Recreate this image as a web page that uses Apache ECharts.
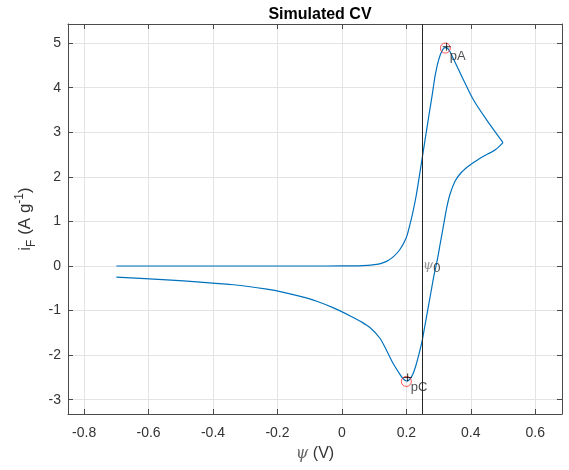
<!DOCTYPE html>
<html><head><meta charset="utf-8">
<script src="https://cdn.jsdelivr.net/npm/echarts@6/dist/echarts.min.js"></script>
<style>html,body{margin:0;padding:0;background:#fff}#c{width:569px;height:470px}</style>
</head><body><div id="c"></div>
<script>
// forward scan
const psiForward = [-0.7,-0.5,-0.3,-0.1,0,0.05,0.08,0.1,0.12,0.14,0.16,0.18,0.2,0.21,0.22,0.23,0.24,0.25,0.26,0.27,0.28,0.29,0.3,0.31,0.32,0.33,0.344,0.377,0.408,0.449,0.5];
const iForward   = [0,0,0,0,0.002,0.005,0.015,0.03,0.055,0.11,0.21,0.37,0.64,0.9,1.2,1.56,2.0,2.46,2.92,3.38,3.83,4.3,4.62,4.82,4.9,4.87,4.68,4.18,3.73,3.28,2.77];
// reverse scan
const psiReverse = [0.5,0.476,0.434,0.4,0.387,0.367,0.351,0.335,0.325,0.315,0.305,0.296,0.286,0.276,0.266,0.257,0.249,0.24,0.23,0.22,0.21,0.2,0.19,0.18,0.16,0.139,0.118,0.087,0.057,0.026,-0.026,-0.078,-0.129,-0.181,-0.233,-0.336,-0.44,-0.543,-0.7];
const iReverse   = [2.77,2.61,2.44,2.28,2.21,2.07,1.9,1.6,1.3,0.9,0.5,0.14,-0.2,-0.6,-1.0,-1.36,-1.68,-1.95,-2.22,-2.43,-2.55,-2.58,-2.53,-2.43,-2.2,-1.9,-1.62,-1.38,-1.24,-1.12,-0.94,-0.79,-0.68,-0.59,-0.52,-0.42,-0.36,-0.31,-0.25];
const xTicks = [-0.8,-0.6,-0.4,-0.2,0,0.2,0.4,0.6];
const yTicks = [-3,-2,-1,0,1,2,3,4,5];
const peakNames = ['pA','pC'];
const peakPsi = [0.321, 0.2];
const peakI = [4.89, -2.59];
const crossPsi = [0.325, 0.204];
const crossI = [4.92, -2.50];
const psi0 = 0.25;
const xRange = [-0.85, 0.683];
const yRange = [-3.32, 5.43];

const FONT = '"Liberation Sans", Arial, Helvetica, sans-serif';
const AX = '#4a4a4a';
const GRIDC = '#e3e3e3';

const chart = echarts.init(document.getElementById('c'), null, {renderer:'canvas'});
const fwd = psiForward.map((x,i)=>[x,iForward[i]]);
const rev = psiReverse.map((x,i)=>[x,iReverse[i]]);
const labelOffsets = [[-1,8],[-1,6]];

function baseX(pos, main){
  return {
    type:'value', min:xRange[0], max:xRange[1], position:pos,
    axisLine:{show:true, onZero:false, lineStyle:{color:AX, width:1}},
    axisTick:{show:true, inside:true, length:5, customValues:xTicks, lineStyle:{color:AX}},
    axisLabel:{show:main, customValues:xTicks, formatter:v=>String(v), margin:12, fontSize:14, color:'#333', fontFamily:FONT},
    splitLine:{show:main, lineStyle:{color:GRIDC, width:1}}
  };
}
function baseY(pos, main){
  return {
    type:'value', min:yRange[0], max:yRange[1], position:pos,
    axisLine:{show:true, onZero:false, lineStyle:{color:AX, width:1}},
    axisTick:{show:true, inside:true, length:5, customValues:yTicks, lineStyle:{color:AX}},
    axisLabel:{show:main, customValues:yTicks, formatter:v=>String(v), margin:7, fontSize:14, color:'#333', fontFamily:FONT},
    splitLine:{show:main, lineStyle:{color:GRIDC, width:1}}
  };
}
const xa = baseX('bottom', true);
xa.name = '{g|ψ}{t| (V)}';
xa.nameLocation = 'middle';
xa.nameGap = 32;
xa.nameTextStyle = {rich:{g:{fontFamily:'"DejaVu Serif", serif', fontStyle:'italic', fontSize:16, color:'#666'}, t:{fontFamily:FONT, fontSize:16, color:'#333'}}};
const ya = baseY('left', true);
ya.name = '{t|i}{s|F}{t| (A g}{p|-1}{t|)}';
ya.nameLocation = 'middle';
ya.nameRotate = 90;
ya.nameGap = 27;
ya.nameTextStyle = {rich:{
  t:{fontFamily:FONT, fontSize:17, color:'#333', lineHeight:24},
  s:{fontFamily:FONT, fontSize:12, color:'#333', verticalAlign:'bottom', lineHeight:12},
  p:{fontFamily:FONT, fontSize:12, color:'#333', verticalAlign:'top', lineHeight:12}
}};

const lineStyle = {color:'#0072BD', width:1.2};
const option = {
  animation:false,
  backgroundColor:'#fff',
  title:{text:'Simulated CV', left:315, top:2, textAlign:'center', textStyle:{fontFamily:FONT, fontSize:16, fontWeight:'bold', color:'#000'}},
  grid:{left:68, top:24, right:7, bottom:56, containLabel:false},
  xAxis:[xa, baseX('top', false)],
  yAxis:[ya, baseY('right', false)],
  series:[
    {type:'line', data:fwd, showSymbol:false, symbol:'none', smooth:0.3, lineStyle:lineStyle, z:3,
     markLine:{silent:true, symbol:['none','none'], label:{show:false}, lineStyle:{color:'#262626', width:1, type:'solid'}, data:[{xAxis:psi0}]}},
    {type:'line', data:rev, showSymbol:false, symbol:'none', smooth:0.3, lineStyle:lineStyle, z:3},
    {type:'scatter', symbol:'circle', symbolSize:10, z:5,
     itemStyle:{color:'rgba(0,0,0,0)', borderColor:'#ff2a2a', borderWidth:1},
     label:{show:true, position:'right', distance:0, formatter:p=>p.name, fontFamily:FONT, fontSize:13, color:'#222'},
     data:peakNames.map((n,i)=>({name:n, value:[peakPsi[i], peakI[i]], label:{offset:labelOffsets[i]}}))},
    {type:'scatter', symbol:'path://M0,-1L0,1M-1,0L1,0', symbolSize:8, z:6,
     itemStyle:{color:'none', borderColor:'#000', borderWidth:1},
     data:crossPsi.map((x,i)=>[x, crossI[i]])},
    {type:'scatter', symbolSize:1, z:6, itemStyle:{color:'rgba(0,0,0,0)'},
     label:{show:true, position:'right', distance:0, formatter:'{g|ψ}{s|0}',
       rich:{g:{fontFamily:'"DejaVu Serif", serif', fontStyle:'italic', fontSize:13, color:'#777', lineHeight:18},
             s:{fontFamily:FONT, fontSize:13, color:'#222', verticalAlign:'bottom', lineHeight:11}}},
     data:[[psi0, 0]]}
  ]
};
chart.setOption(option);
</script></body></html>
